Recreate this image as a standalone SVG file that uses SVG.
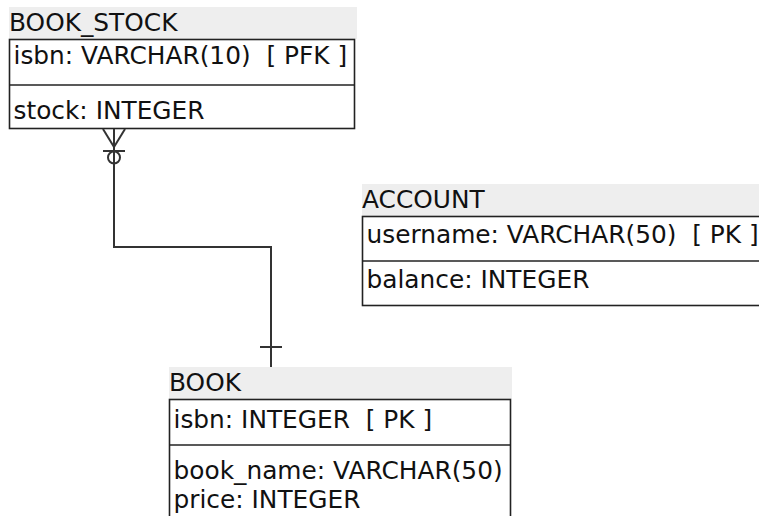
<svg xmlns="http://www.w3.org/2000/svg" width="759" height="516" viewBox="0 0 759 516">
<style>
.hdr{fill:#eeeeee}
.box{fill:#ffffff;stroke:#222;stroke-width:1.6}
.div{stroke:#222;stroke-width:1.6}
.t{font-family:"DejaVu Sans",sans-serif;font-size:24px;fill:#111;white-space:pre}
.c{fill:none;stroke:#333;stroke-width:2}
</style>
<rect width="759" height="516" fill="#fff"/>
<g id="book_stock">
<rect class="hdr" x="9" y="7" width="348" height="32"/>
<text class="t" transform="translate(9 31) scale(1.035 1)" xml:space="preserve">BOOK_STOCK</text>
<rect class="box" x="9.5" y="39.5" width="345" height="89"/>
<line class="div" x1="9.5" y1="85" x2="354.5" y2="85"/>
<text class="t" transform="translate(13.5 64) scale(1.035 1)" xml:space="preserve">isbn: VARCHAR(10)  [ PFK ]</text>
<text class="t" transform="translate(13.5 119) scale(1.035 1)" xml:space="preserve">stock: INTEGER</text>
</g>
<g id="account">
<rect class="hdr" x="362" y="184" width="400" height="32"/>
<text class="t" transform="translate(362 208) scale(1.035 1)" xml:space="preserve">ACCOUNT</text>
<rect class="box" x="362.5" y="216.5" width="420" height="89"/>
<line class="div" x1="362.5" y1="261" x2="782" y2="261"/>
<text class="t" transform="translate(366.5 243) scale(1.035 1)" xml:space="preserve">username: VARCHAR(50)  [ PK ]</text>
<text class="t" transform="translate(366.5 288) scale(1.035 1)" xml:space="preserve">balance: INTEGER</text>
</g>
<g id="book">
<rect class="hdr" x="169" y="367" width="343" height="32"/>
<text class="t" transform="translate(169 391) scale(1.035 1)" xml:space="preserve">BOOK</text>
<rect class="box" x="169.5" y="399.5" width="341" height="140"/>
<line class="div" x1="169.5" y1="445" x2="510.5" y2="445"/>
<text class="t" transform="translate(173.5 428) scale(1.035 1)" xml:space="preserve">isbn: INTEGER  [ PK ]</text>
<text class="t" transform="translate(173.5 479) scale(1.035 1)" xml:space="preserve">book_name: VARCHAR(50)</text>
<text class="t" transform="translate(173.5 508) scale(1.035 1)" xml:space="preserve">price: INTEGER</text>
</g>
<g id="connectors">
<polyline class="c" points="114,129 114,247 271,247 271,367"/>
<line class="c" x1="103" y1="129" x2="114" y2="147"/>
<line class="c" x1="125" y1="129" x2="114" y2="147"/>
<line class="c" x1="103" y1="151" x2="125" y2="151"/>
<circle class="c" cx="114" cy="157.5" r="6" fill="#fff"/>
<line class="c" x1="260" y1="347" x2="282" y2="347"/>
</g>
</svg>
